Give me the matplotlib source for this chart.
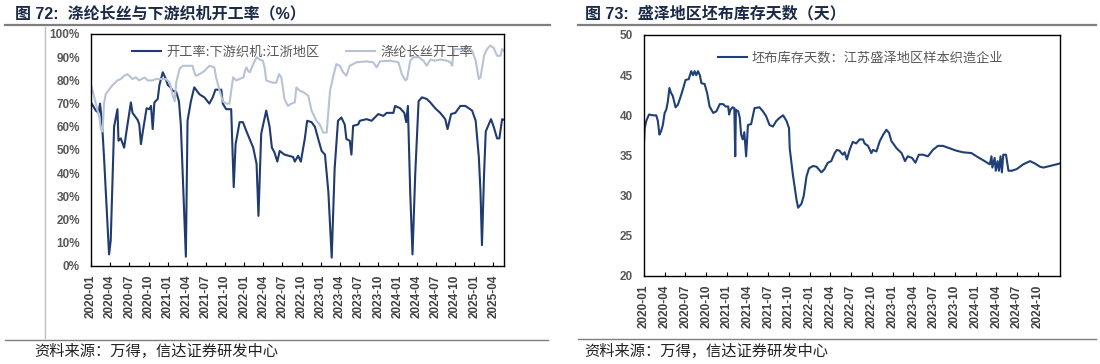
# -*- coding: utf-8 -*-
import matplotlib
matplotlib.use("Agg")
import matplotlib.pyplot as plt
import matplotlib.dates as mdates
import pandas as pd

plt.rcParams['font.family'] = ['Liberation Sans', 'Noto Sans CJK SC', 'DejaVu Sans']
plt.rcParams['axes.unicode_minus'] = False

# ---- 图72 数据 ----
loom_dates = ["2020-01-01", "2020-01-24", "2020-02-06", "2020-02-13", "2020-02-22", "2020-03-03",
              "2020-03-27", "2020-04-04", "2020-04-20", "2020-05-06", "2020-05-11", "2020-05-22",
              "2020-06-07", "2020-06-18", "2020-07-09", "2020-07-17", "2020-08-10", "2020-08-18",
              "2020-08-26", "2020-09-04", "2020-09-22", "2020-10-05", "2020-10-13", "2020-10-21",
              "2020-10-29", "2020-11-14", "2020-11-22", "2020-12-08", "2020-12-21", "2021-01-01",
              "2021-01-14", "2021-01-25", "2021-02-10", "2021-02-23", "2021-03-04", "2021-03-28",
              "2021-04-05", "2021-04-21", "2021-05-07", "2021-06-01", "2021-06-24", "2021-07-18",
              "2021-08-03", "2021-08-16", "2021-09-13", "2021-09-20", "2021-10-06", "2021-10-30",
              "2021-11-11", "2021-11-20", "2021-12-09", "2021-12-25", "2022-01-11", "2022-02-12",
              "2022-02-28", "2022-03-09", "2022-03-22", "2022-04-15", "2022-05-01", "2022-05-12",
              "2022-05-24", "2022-06-07", "2022-06-18", "2022-07-11", "2022-08-21", "2022-08-29",
              "2022-09-14", "2022-09-27", "2022-10-16", "2022-10-27", "2022-11-17", "2022-12-03",
              "2022-12-18", "2023-01-04", "2023-01-20", "2023-02-05", "2023-02-21", "2023-03-07",
              "2023-03-23", "2023-04-08", "2023-04-24", "2023-05-02", "2023-05-18", "2023-05-26",
              "2023-06-03", "2023-06-27", "2023-07-05", "2023-08-06", "2023-08-30", "2023-10-01",
              "2023-10-25", "2023-11-10", "2023-12-12", "2023-12-20", "2024-01-13", "2024-02-02",
              "2024-02-11", "2024-02-19", "2024-03-01", "2024-03-12", "2024-03-25", "2024-04-10",
              "2024-04-26", "2024-05-19", "2024-06-05", "2024-06-28", "2024-07-22", "2024-08-15",
              "2024-08-26", "2024-09-12", "2024-10-02", "2024-10-26", "2024-11-19", "2024-12-05",
              "2024-12-21", "2025-01-07", "2025-01-22", "2025-01-30", "2025-02-06", "2025-02-16",
              "2025-02-24", "2025-03-10", "2025-03-21", "2025-04-03", "2025-04-19", "2025-04-30",
              "2025-05-13", "2025-05-21"]
loom_rate = [70.5, 67, 66, 70, 62.5, 47, 5, 11, 60, 67.6, 54, 55,
             51, 58, 70.5, 66, 63, 61, 52.5, 58, 68, 67.6, 69, 59,
             70.5, 72, 78, 83.5, 81, 78, 77, 75.5, 75, 71, 61, 4,
             62.6, 71, 77, 74, 72.7, 70, 72.7, 76, 76, 70, 67.6, 67.6,
             34, 52.5, 62, 62, 58, 51, 44, 21.6, 57, 67, 60, 51,
             49, 45, 49.6, 48, 47, 45, 47.5, 45, 55, 62.6, 62, 60,
             55, 49.6, 48, 32, 3.6, 42, 62.6, 64, 61, 54.7, 54, 48,
             60.4, 61, 62.6, 63.3, 62.6, 65.5, 64.7, 66, 66, 69, 68, 66,
             62, 69, 32, 5, 39.6, 71, 72.7, 72, 70.5, 68, 66, 63.3,
             59, 65.5, 66, 69, 69, 68, 67, 62.6, 47, 32, 9, 39.6,
             58, 61, 63.3, 60, 55, 55, 63.3, 63]

pfy_dates = ["2020-01-01", "2020-01-09", "2020-01-24", "2020-02-10", "2020-02-17", "2020-02-25",
             "2020-03-03", "2020-03-11", "2020-03-27", "2020-04-13", "2020-05-06", "2020-05-22",
             "2020-06-07", "2020-06-23", "2020-07-01", "2020-07-17", "2020-08-02", "2020-08-18",
             "2020-09-12", "2020-09-27", "2020-10-21", "2020-11-06", "2020-11-30", "2020-12-24",
             "2021-01-10", "2021-01-18", "2021-01-25", "2021-02-03", "2021-02-10", "2021-02-26",
             "2021-03-13", "2021-04-29", "2021-05-07", "2021-05-15", "2021-06-01", "2021-06-24",
             "2021-07-18", "2021-08-11", "2021-08-19", "2021-09-05", "2021-09-20", "2021-10-06",
             "2021-10-22", "2021-10-30", "2021-11-08", "2021-11-23", "2021-12-09", "2021-12-28",
             "2022-01-03", "2022-01-11", "2022-01-19", "2022-01-27", "2022-02-12", "2022-02-28",
             "2022-03-14", "2022-03-30", "2022-04-07", "2022-04-15", "2022-05-16", "2022-06-02",
             "2022-06-15", "2022-06-26", "2022-07-11", "2022-07-27", "2022-08-13", "2022-08-29",
             "2022-09-06", "2022-09-22", "2022-10-08", "2022-11-01", "2022-11-17", "2022-12-10",
             "2022-12-26", "2023-01-12", "2023-01-28", "2023-02-13", "2023-03-01", "2023-03-15",
             "2023-04-01", "2023-04-16", "2023-05-02", "2023-05-18", "2023-06-19", "2023-08-06",
             "2023-09-07", "2023-09-23", "2023-10-09", "2023-11-26", "2024-01-05", "2024-01-21",
             "2024-02-07", "2024-02-15", "2024-03-01", "2024-03-16", "2024-04-10", "2024-05-03",
             "2024-05-19", "2024-06-05", "2024-06-28", "2024-07-22", "2024-08-23", "2024-09-09",
             "2024-09-17", "2024-09-25", "2024-11-04", "2024-11-28", "2024-12-21", "2025-01-07",
             "2025-01-22", "2025-01-30", "2025-02-16", "2025-03-02", "2025-03-18", "2025-04-03",
             "2025-04-19", "2025-05-05", "2025-05-13", "2025-05-21"]
pfy_rate = [78, 75.5, 70, 64, 59, 58, 70, 74, 76, 78, 80, 80.6,
            82, 82.7, 82, 80.6, 81.3, 80, 81.3, 80, 80, 80.6, 80.6, 80.6,
            79, 76, 73.4, 71, 79, 85, 86.3, 86.3, 83.5, 82, 82.7, 84,
            86.3, 85.6, 81.3, 75.5, 71, 70, 70, 75.5, 81.3, 80, 80.6, 81.3,
            84, 85.6, 84, 83.5, 87, 90, 89, 88.5, 85.6, 80, 79, 79,
            82.7, 81.3, 72, 69, 70, 70.5, 77, 75.5, 75, 73.4, 67, 62.6,
            61, 57.5, 57.5, 75.5, 82, 87, 86.3, 83.5, 82, 86.3, 87.8, 88.2,
            87.8, 85.6, 88.2, 88.5, 87.8, 82.7, 80, 80.6, 88.5, 90, 90, 88.5,
            86.3, 89, 88.5, 89, 88.5, 87.8, 86.3, 93.5, 93.5, 94, 92.8, 88.5,
            80.6, 81.3, 90.6, 93.5, 95, 94, 90.6, 90.6, 93.5, 92.8]

# ---- 图73 数据 ----
inv_dates = ["2020-01-01", "2020-01-04", "2020-01-11", "2020-01-23", "2020-02-10", "2020-02-24",
             "2020-03-02", "2020-03-09", "2020-03-16", "2020-03-24", "2020-04-01", "2020-04-08",
             "2020-04-15", "2020-04-22", "2020-04-29", "2020-05-07", "2020-05-19", "2020-05-29",
             "2020-06-09", "2020-06-20", "2020-07-02", "2020-07-16", "2020-07-27", "2020-08-04",
             "2020-08-11", "2020-08-18", "2020-08-26", "2020-09-03", "2020-09-10", "2020-09-24",
             "2020-10-05", "2020-10-16", "2020-11-01", "2020-11-15", "2020-11-30", "2020-12-14",
             "2020-12-26", "2021-01-06", "2021-01-10", "2021-01-16", "2021-01-25", "2021-02-02",
             "2021-02-06", "2021-02-09", "2021-02-19", "2021-02-26", "2021-03-04", "2021-03-11",
             "2021-03-18", "2021-03-26", "2021-04-03", "2021-04-17", "2021-05-02", "2021-05-24",
             "2021-06-08", "2021-06-22", "2021-07-07", "2021-07-22", "2021-08-06", "2021-08-21",
             "2021-09-05", "2021-09-20", "2021-10-01", "2021-10-04", "2021-10-18", "2021-11-03",
             "2021-11-10", "2021-11-25", "2021-12-05", "2021-12-17", "2021-12-28", "2022-01-15",
             "2022-01-30", "2022-02-21", "2022-03-06", "2022-03-21", "2022-04-05", "2022-04-20",
             "2022-04-30", "2022-05-11", "2022-05-26", "2022-06-03", "2022-06-13", "2022-06-25",
             "2022-07-09", "2022-07-24", "2022-08-08", "2022-08-23", "2022-08-30", "2022-09-14",
             "2022-09-29", "2022-10-06", "2022-10-21", "2022-11-05", "2022-11-20", "2022-12-04",
             "2022-12-16", "2022-12-26", "2023-01-18", "2023-02-09", "2023-02-24", "2023-03-08",
             "2023-03-27", "2023-04-11", "2023-04-26", "2023-05-14", "2023-06-05", "2023-06-27",
             "2023-07-19", "2023-08-10", "2023-09-09", "2023-10-08", "2023-11-07", "2023-12-14",
             "2024-01-05", "2024-02-04", "2024-03-04", "2024-03-11", "2024-03-15", "2024-03-25",
             "2024-03-30", "2024-04-07", "2024-04-13", "2024-04-20", "2024-04-26", "2024-05-02",
             "2024-05-14", "2024-05-25", "2024-06-08", "2024-06-30", "2024-07-29", "2024-08-28",
             "2024-09-19", "2024-10-11", "2024-10-26", "2024-12-09", "2025-01-05"]
inv_days = [36.6, 38.4, 39.3, 40.1, 40, 40, 39.3, 37.6, 38, 38.8, 40.3, 40.7,
            41.7, 43.4, 42.8, 42.4, 41, 41.3, 42.2, 43.2, 44.4, 44.5, 45.5, 45,
            45.5, 45, 45.5, 45, 44, 43.9, 42.8, 41.1, 40.3, 40.5, 41.4, 41.4,
            41.1, 41.1, 40.1, 40.7, 41, 40.9, 34.9, 40.7, 40.5, 39.7, 37.6, 37,
            37.9, 34.9, 38.8, 38.9, 40.9, 41, 40.5, 39.9, 38.8, 38.6, 39.3, 39.7,
            40, 39.3, 38.4, 35.9, 32.6, 29.5, 28.5, 29.0, 30, 32.4, 33.4, 33.7,
            33.6, 32.9, 33.3, 34.1, 34.3, 35.3, 35.7, 35.6, 35.1, 35.4, 34.5, 35.7,
            36.7, 36.5, 37, 37, 36.5, 36.2, 35.3, 35.7, 35.5, 36.8, 37.6, 38.2,
            37.8, 36.8, 35.9, 35.3, 34.3, 34.9, 34.7, 34.1, 35.1, 35.1, 34.9, 35.7,
            36.2, 36.2, 35.9, 35.6, 35.4, 35.3, 34.9, 34.4, 33.9, 34.9, 33.5, 34.7,
            33.1, 34.3, 33.1, 34.9, 32.9, 35.1, 35.1, 33.1, 33.1, 33.3, 33.9, 34.3,
            34, 33.6, 33.5, 33.8, 34]

navy = '#1F3B6F'
light = '#B7C3D5'
gray_txt = '#595959'
cjk = ['Noto Sans CJK SC', 'DejaVu Sans']

fig = plt.figure(figsize=(11, 3.64), dpi=100)

# 装饰线 (标题下方横线, 底部横线, 左侧竖线)
deco = fig.add_axes([0, 0, 1, 1], zorder=-1)
deco.set_xlim(0, 1100)
deco.set_ylim(364, 0)
deco.axis('off')
deco.plot([5, 550], [25, 25], color='#7F7F7F', lw=1.6)
deco.plot([578, 1096], [25, 25], color='#7F7F7F', lw=1.6)
deco.plot([5, 548], [340, 340], color='#7F7F7F', lw=1.0)
deco.plot([578, 1096], [339, 339], color='#7F7F7F', lw=1.0)
deco.plot([45, 45], [27, 338], color='#BFBFBF', lw=1.0)

title_kw = dict(fontsize=11.5, fontweight='bold', color='#1B2A47', va='center')
fig.text(15 / 1100, 1 - 14 / 364, "图 72:  涤纶长丝与下游织机开工率（%）", **title_kw)
fig.text(585 / 1100, 1 - 14 / 364, "图 73:  盛泽地区坯布库存天数（天）", **title_kw)

src_kw = dict(fontsize=11, color='#222222', va='center', style='italic', family=cjk)
fig.text(34 / 1100, 1 - 351 / 364, "资料来源：万得，信达证券研发中心", **src_kw)
fig.text(584 / 1100, 1 - 351 / 364, "资料来源：万得，信达证券研发中心", **src_kw)


def style_axes(ax):
    for s in ax.spines.values():
        s.set_color('black')
        s.set_linewidth(1.0)
    ax.tick_params(axis='y', length=0, pad=8, labelsize=8.5, labelcolor=gray_txt)
    ax.tick_params(axis='x', direction='in', length=3, width=0.8, pad=6,
                   labelsize=8.5, labelcolor='#404040', rotation=90)
    for lb in ax.get_yticklabels() + ax.get_xticklabels():
        lb.set_fontweight('bold')
    ax.xaxis.set_major_formatter(mdates.DateFormatter('%Y-%m'))


# ---- 左图 ----
ax1 = fig.add_axes([91 / 1100, 1 - 266 / 364, 413 / 1100, 232 / 364])
ax1.plot(pd.to_datetime(loom_dates), loom_rate, color=navy, lw=1.5,
         label="开工率:下游织机:江浙地区")
ax1.plot(pd.to_datetime(pfy_dates), pfy_rate, color=light, lw=1.5,
         label="涤纶长丝开工率")
ax1.set_xlim(pd.Timestamp("2020-01-01"), pd.Timestamp("2025-05-22"))
ax1.set_ylim(0, 100)
ax1.set_yticks(range(0, 101, 10))
ax1.set_yticklabels([f"{v}%" for v in range(0, 101, 10)])
ax1.set_xticks(pd.date_range("2020-01-01", "2025-04-01", freq="QS"))
style_axes(ax1)
ax1.legend(loc='upper left', bbox_to_anchor=(0.07, 1.0), ncol=2, frameon=False,
           labelcolor=gray_txt, handlelength=2.2, handletextpad=0.4, columnspacing=2.0,
           prop={'family': cjk, 'size': 9.5})

# ---- 右图 ----
ax2 = fig.add_axes([644 / 1100, 1 - 276 / 364, 416 / 1100, 241 / 364])
ax2.plot(pd.to_datetime(inv_dates), inv_days, color='#1F3F78', lw=1.5,
         label="坯布库存天数：江苏盛泽地区样本织造企业")
ax2.set_xlim(pd.Timestamp("2020-01-01"), pd.Timestamp("2025-01-07"))
ax2.set_ylim(20, 50)
ax2.set_yticks(range(20, 51, 5))
ax2.set_xticks(pd.date_range("2020-01-01", "2024-10-01", freq="QS"))
style_axes(ax2)
ax2.legend(loc='upper left', bbox_to_anchor=(0.15, 0.98), frameon=False,
           labelcolor=gray_txt, handlelength=2.2, handletextpad=0.3,
           prop={'family': cjk, 'size': 9.5})

fig.savefig("out.png", dpi=100)
